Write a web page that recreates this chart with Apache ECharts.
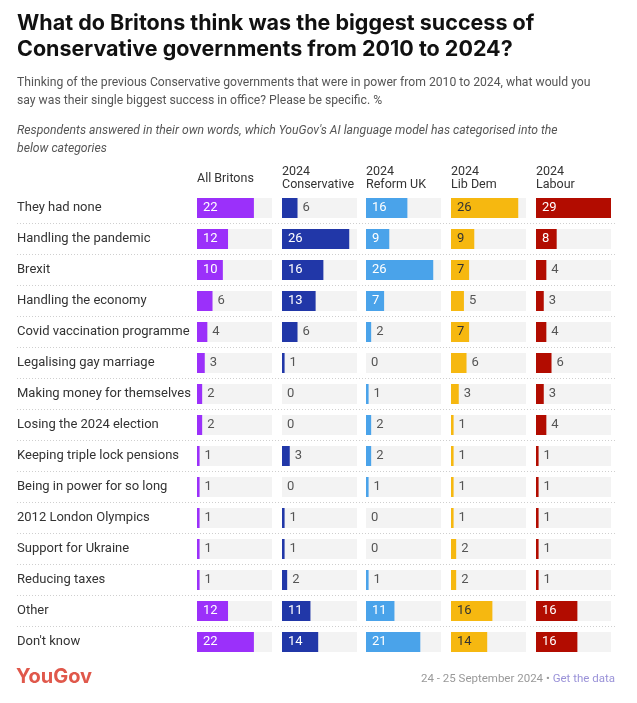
<!DOCTYPE html>
<html><head><meta charset="utf-8">
<script src="https://cdn.jsdelivr.net/npm/echarts@6/dist/echarts.min.js"></script>
<style>html,body{margin:0;padding:0;background:#fff}#c{width:637px;height:703px}</style>
</head><body><div id="c"></div>
<script>
const categories = ["They had none","Handling the pandemic","Brexit","Handling the economy","Covid vaccination programme","Legalising gay marriage","Making money for themselves","Losing the 2024 election","Keeping triple lock pensions","Being in power for so long","2012 London Olympics","Support for Ukraine","Reducing taxes","Other","Don't know"];
const groups = ["All Britons","2024\nConservative","2024\nReform UK","2024\nLib Dem","2024\nLabour"];
const allBritons = [22,12,10,6,4,3,2,2,1,1,1,1,1,12,22];
const conservative = [6,26,16,13,6,1,0,0,3,0,1,1,2,11,14];
const reformUK = [16,9,26,7,2,0,1,2,2,1,0,0,1,11,21];
const libDem = [26,9,7,5,7,6,3,1,1,1,1,2,2,16,14];
const labour = [29,8,4,3,4,6,3,4,1,1,1,1,1,16,16];

const seriesData = [allBritons, conservative, reformUK, libDem, labour];
const colors = ['#9b30fa','#2137a8','#4aa3ea','#f6b810','#b20c00'];
const insideText = ['#fff','#fff','#fff','#333','#fff'];
const FONT = 'Roboto, "Noto Sans", sans-serif';
const TFONT = 'Inter, "Noto Sans", sans-serif';
const lefts = [197,282,366,451,536];
const W = 75, TOP = 192.5, H = 465;
const maxV = 29;

const grids = [], xAxes = [], yAxes = [], series = [], titles = [];
grids.push({left:17, width:598, top:TOP, height:H, containLabel:false});
xAxes.push({gridIndex:0, type:'value', show:false, min:0, max:1});
yAxes.push({gridIndex:0, type:'category', data:categories, inverse:true,
  axisLine:{show:false}, axisTick:{show:false}, axisLabel:{show:false},
  splitLine:{show:true, showMinLine:false, showMaxLine:false, lineStyle:{color:'#cfcfcf', type:[1,2], width:1}}});

seriesData.forEach((arr, i) => {
  const gi = i + 1;
  grids.push({left:lefts[i], width:W, top:TOP, height:H});
  xAxes.push({gridIndex:gi, type:'value', min:0, max:maxV, show:false});
  yAxes.push({gridIndex:gi, type:'category', data:categories, inverse:true,
    axisLine:{show:false}, axisTick:{show:false}, splitLine:{show:false},
    axisLabel: i === 0 ? {show:true, align:'left', margin:180, color:'#333', fontSize:13, fontFamily:FONT} : {show:false}});
  series.push({
    type:'bar', xAxisIndex:gi, yAxisIndex:gi, barWidth:20,
    showBackground:true, backgroundStyle:{color:'#f3f3f3'},
    itemStyle:{color:colors[i]},
    data: arr.map(v => ({
      value:v,
      label: v >= 7
        ? {show:true, position:'insideLeft', distance:6, color:insideText[i], fontSize:13, fontFamily:FONT}
        : {show:true, position:'right', distance:5, color:'#555', fontSize:13, fontFamily:FONT}
    })),
    animation:false
  });
  const lines = groups[i].split('\n');
  titles.push({text:groups[i], left:lefts[i], top: lines.length === 1 ? 172 : 165,
    textStyle:{fontSize:12.5, fontWeight:'normal', color:'#333', fontFamily:FONT, lineHeight:13.5}, padding:0});
});

titles.push({text:'What do Britons think was the biggest success of\nConservative governments from 2010 to 2024?',
  left:17, top:11, padding:0,
  textStyle:{fontSize:21.5, fontWeight:'bold', color:'#111', fontFamily:TFONT, lineHeight:26}});
titles.push({text:'Thinking of the previous Conservative governments that were in power from 2010 to 2024, what would you\nsay was their single biggest success in office? Please be specific. %',
  left:17, top:74, padding:0,
  textStyle:{fontSize:12.2, fontWeight:'normal', color:'#555', fontFamily:FONT, lineHeight:18}});
titles.push({text:"Respondents answered in their own words, which YouGov's AI language model has categorised into the\nbelow categories",
  left:17, top:122, padding:0,
  textStyle:{fontSize:12.2, fontStyle:'italic', fontWeight:'normal', color:'#555', fontFamily:FONT, lineHeight:18}});
titles.push({text:'YouGov', left:16, top:667, padding:0,
  textStyle:{fontSize:20, fontWeight:'bold', color:'#e0584b', fontFamily:TFONT}});
titles.push({text:'{a|24 - 25 September 2024 • }{b|Get the data}', right:22, top:673, padding:0,
  textStyle:{fontWeight:'normal', rich:{a:{fontSize:11.5, fontWeight:'normal', color:'#999', fontFamily:FONT}, b:{fontSize:11.5, fontWeight:'normal', color:'#9a92d8', fontFamily:FONT}}}});

const chart = echarts.init(document.getElementById('c'), null, {renderer:'canvas'});
chart.setOption({animation:false, title:titles, grid:grids, xAxis:xAxes, yAxis:yAxes, series:series});
</script></body></html>
